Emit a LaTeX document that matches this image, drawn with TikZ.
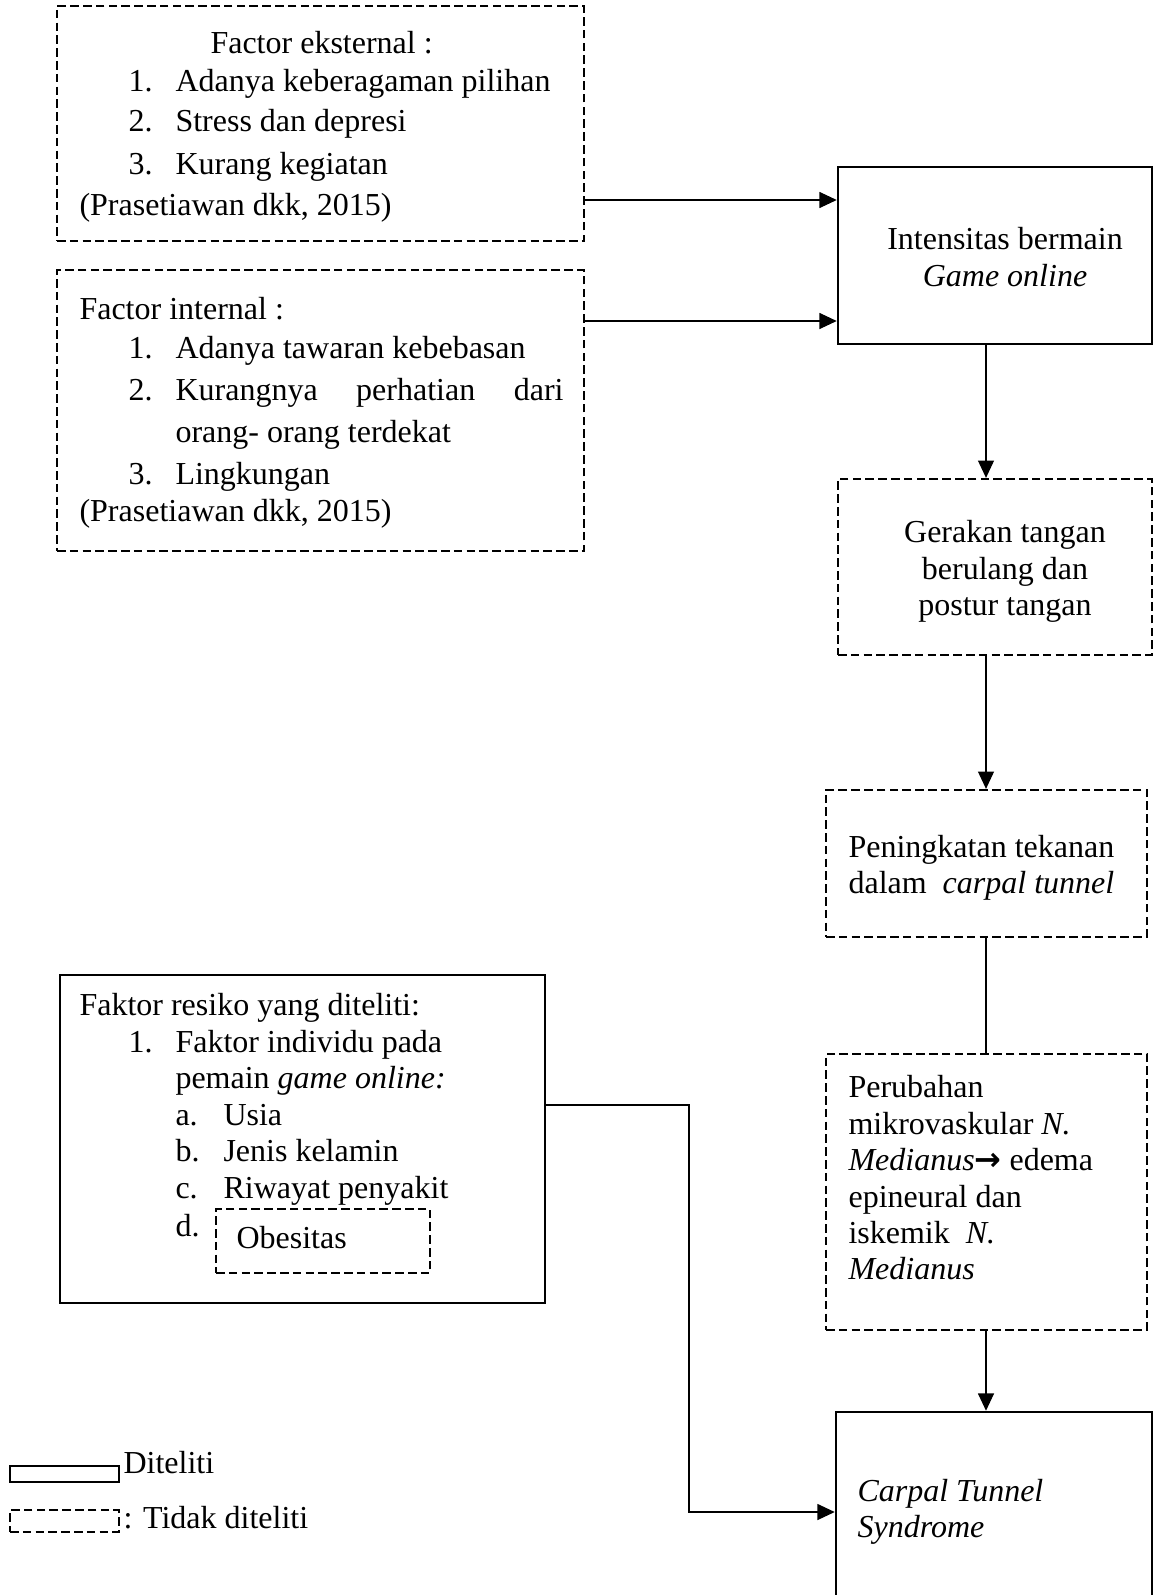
\documentclass[tikz,border=0pt]{standalone}
\usepackage{fontspec}
\setmainfont{Liberation Serif}
\newfontfamily\arrowfont{DejaVu Sans}
\usepackage{tikz}
\usetikzlibrary{positioning, arrows.meta, shapes, fit}

\begin{document}
\begin{tikzpicture}[x=0.375pt, y=-0.375pt,
    solidbox/.style={draw, line width=0.95pt, inner sep=0pt},
    dashbox/.style={draw, line width=0.85pt, dash pattern=on 3.2pt off 1.6pt, inner sep=0pt},
    txt/.style={anchor=base west, inner sep=0pt, font=\fontsize{12}{14}\selectfont},
    ctxt/.style={txt, anchor=base},
    arr/.style={line width=0.45pt, -{Triangle[length=6.5pt, width=6pt]}},
    lin/.style={line width=0.45pt}]
    \useasboundingbox (0,0) rectangle (1154,1595);
    % boxes
    \node[dashbox, fit={(57,6) (584,241)}] (ext) {};
    \node[dashbox, fit={(57,270) (584,551)}] (int) {};
    \node[solidbox, fit={(838,167) (1152,344)}] (intens) {};
    \node[dashbox, fit={(838,479) (1152,655)}] (gerak) {};
    \node[dashbox, fit={(826,790) (1147,937)}] (tekanan) {};
    \node[dashbox, fit={(826,1054) (1147,1330)}] (mikro) {};
    \node[solidbox, fit={(836,1412) (1152,1615)}] (cts) {};
    \node[solidbox, fit={(60,975) (545,1303)}] (risiko) {};
    \node[dashbox, fit={(216,1209) (430,1273)}] (obes) {};
    \node[solidbox, fit={(10,1466) (119,1482)}] (legsolid) {};
    \node[dashbox, fit={(10,1510) (119,1532)}] (legdash) {};

    % texts
    \node[txt] (ext-t) at (210,53) {Factor eksternal :};
    \foreach \n/\t/\y in {1/Adanya keberagaman pilihan/91, 2/Stress dan depresi/131, 3/Kurang kegiatan/174}{
        \node[txt] (ext-n\n) at (128,\y) {\n.};
        \node[txt] (ext-i\n) at (175,\y) {\t};}
    \node[txt] (ext-r) at (79,215) {(Prasetiawan dkk, 2015)};

    \node[txt] (int-t) at (79,319) {Factor internal :};
    \node[txt] (int-n1) at (128,358) {1.};
    \node[txt] (int-i1) at (175,358) {Adanya tawaran kebebasan};
    \node[txt] (int-n2) at (128,400) {2.};
    \node[txt] (int-i2) at (175,400) {\makebox[145.5pt][s]{Kurangnya perhatian dari}};
    \node[txt] (int-i2b) at (175,442) {orang- orang terdekat};
    \node[txt] (int-n3) at (128,484) {3.};
    \node[txt] (int-i3) at (175,484) {Lingkungan};
    \node[txt] (int-r) at (79,521) {(Prasetiawan dkk, 2015)};

    \node[ctxt] (intens-1) at (1005,249) {Intensitas bermain};
    \node[ctxt] (intens-2) at (1005,286) {\textit{Game online}};

    \node[ctxt] (gerak-1) at (1005,542) {Gerakan tangan};
    \node[ctxt] (gerak-2) at (1005,579) {berulang dan};
    \node[ctxt] (gerak-3) at (1005,615) {postur tangan};

    \node[txt] (tekanan-1) at (848,857) {Peningkatan tekanan};
    \node[txt] (tekanan-2) at (848,893) {dalam\ \ \textit{carpal tunnel}};

    \node[txt] (mikro-1) at (848,1097) {Perubahan};
    \node[txt] (mikro-2) at (848,1134) {mikrovaskular \textit{N.}};
    \node[txt] (mikro-3) at (848,1170) {\textit{Medianus}{\arrowfont\bfseries →} edema};
    \node[txt] (mikro-4) at (848,1207) {epineural dan};
    \node[txt] (mikro-5) at (848,1243) {iskemik\ \ \textit{N.}};
    \node[txt] (mikro-6) at (848,1279) {\textit{Medianus}};

    \node[txt] (cts-1) at (857,1501) {\textit{Carpal Tunnel}};
    \node[txt] (cts-2) at (857,1537) {\textit{Syndrome}};

    \node[txt] (risiko-t) at (79,1015) {Faktor resiko yang diteliti:};
    \node[txt] (risiko-n1) at (128,1052) {1.};
    \node[txt] (risiko-i1) at (175,1052) {Faktor individu pada};
    \node[txt] (risiko-i1b) at (175,1088) {pemain \textit{game online:}};
    \foreach \n/\t/\y in {a/Usia/1125, b/Jenis kelamin/1161, c/Riwayat penyakit/1198}{
        \node[txt] (risiko-n\n) at (175,\y) {\n.};
        \node[txt] (risiko-i\n) at (223,\y) {\t};}
    \node[txt] (risiko-nd) at (175,1236) {d.};
    \node[txt] (obes-t) at (236,1248) {Obesitas};

    \node[txt] (legsolid-t) at (123,1473) {Diteliti};
    \node[txt] (legdash-t) at (123,1528) {: Tidak diteliti};

    % connectors
    \coordinate (y1) at (0,200); \coordinate (y2) at (0,321);
    \coordinate (xv) at (986,0); \coordinate (yr) at (0,1105);
    \coordinate (bend) at (689,1512);
    \draw[arr] (ext.east |- y1) -- (intens.west |- y1);
    \draw[arr] (int.east |- y2) -- (intens.west |- y2);
    \draw[arr] (intens.south -| xv) -- (gerak.north -| xv);
    \draw[arr] (gerak.south -| xv) -- (tekanan.north -| xv);
    \draw[lin] (tekanan.south -| xv) -- (mikro.north -| xv);
    \draw[arr] (mikro.south -| xv) -- (cts.north -| xv);
    \draw[arr] (risiko.east |- yr) -| (bend) -- (cts.west |- bend);
\end{tikzpicture}
\end{document}
